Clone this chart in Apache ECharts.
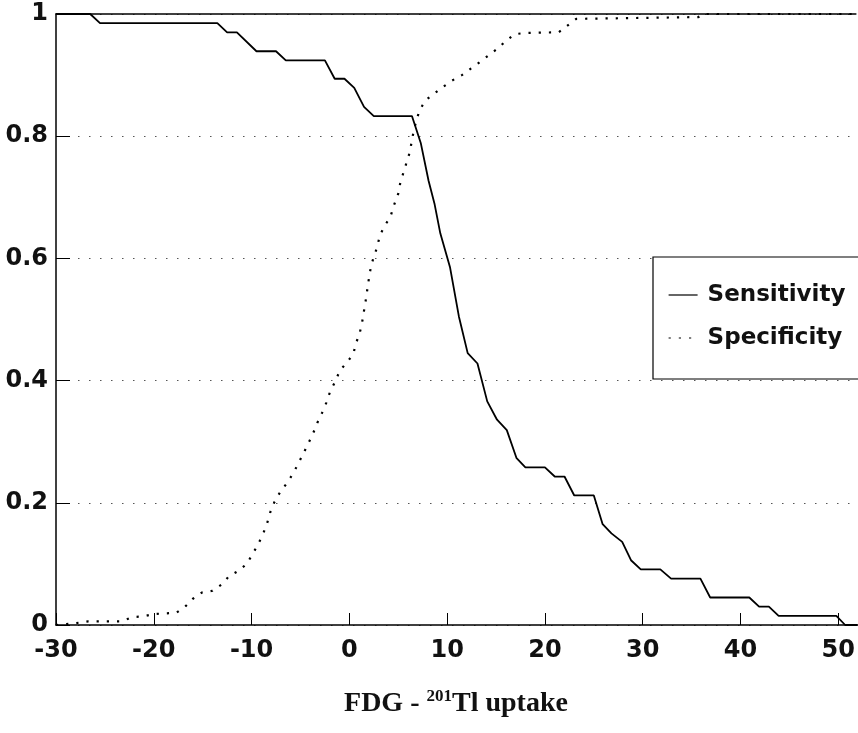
<!DOCTYPE html>
<html>
<head>
<meta charset="utf-8">
<script src="https://cdn.jsdelivr.net/npm/echarts@6/dist/echarts.min.js"></script>
<style>
  html, body { margin: 0; padding: 0; background: #fff; }
  #chart { width: 858px; height: 733px; }
</style>
</head>
<body>
<div id="chart"></div>
<script>
// tick values
const xTicks = [-30, -20, -10, 0, 10, 20, 30, 40, 50]

// Sensitivity (solid)
const sensitivityX = [-30, -26.5, -25.5, -13.5, -12.5, -11.5, -9.5, -7.5, -6.5, -2.5, -1.5, -0.5, 0.5, 1.5, 2.5, 6.4,
  7.3, 8.1, 8.7, 9.3, 10.3, 11.2, 12.1, 13.1, 14.1, 15.1, 16.1, 17.1, 18, 20, 21, 22, 23, 25, 25.9, 26.8, 27.9,
  28.8, 29.8, 31.8, 32.9, 35.9, 36.9, 40.9, 41.9, 42.9, 43.9, 49.8, 50.7, 52]
const sensitivityY = [1, 1, 0.985, 0.985, 0.97, 0.97, 0.939, 0.939, 0.924, 0.924, 0.894, 0.894, 0.879, 0.848, 0.833, 0.833,
  0.789, 0.727, 0.69, 0.641, 0.585, 0.505, 0.445, 0.428, 0.366, 0.336, 0.319, 0.273, 0.258, 0.258, 0.243, 0.243, 0.212, 0.212, 0.165, 0.15, 0.136,
  0.106, 0.091, 0.091, 0.076, 0.076, 0.045, 0.045, 0.03, 0.03, 0.015, 0.015, 0, 0]

// Specificity (dotted)
const specificityX = [-30, -28, -26.7, -23.3, -22.2, -21.1, -20, -17.7, -16.8, -16, -15.1, -14, -13, -12.3, -11.3, -10.5,
  -9.9, -9.3, -8.8, -8.4, -8.1, -7.7, -7.1, -6.4, -5.75, -5.2, -4.7, -4.2, -3.7, -3.27, -2.8, -2.35, -1.97, -1.46, -0.98,
  -0.3, 0.4, 0.65, 1.05, 1.3, 1.67, 2.0, 2.2, 2.5, 2.86, 3.1, 3.6, 4.2, 4.56, 5, 5.2, 5.5, 5.85, 6.2, 6.4, 6.6, 6.87,
  7.2, 7.8, 8.7, 9.6, 10.5, 11.5, 12.45, 13.4, 14.3, 15.2, 16, 16.9, 18, 21.4, 22.3, 23.2, 35.7, 36.2, 52]
const specificityY = [0, 0.003, 0.006, 0.006, 0.013, 0.014, 0.018, 0.02, 0.03, 0.043, 0.053, 0.056, 0.067, 0.08, 0.089, 0.1,
  0.116, 0.133, 0.15, 0.167, 0.184, 0.2, 0.217, 0.232, 0.248, 0.265, 0.281, 0.297, 0.314, 0.331, 0.347, 0.364, 0.382, 0.398, 0.416,
  0.429, 0.443, 0.46, 0.477, 0.495, 0.531, 0.567, 0.586, 0.603, 0.619, 0.637, 0.653, 0.668, 0.687, 0.706, 0.723, 0.739, 0.757, 0.775, 0.794, 0.81, 0.827,
  0.843, 0.859, 0.87, 0.881, 0.891, 0.9, 0.911, 0.922, 0.933, 0.944, 0.956, 0.967, 0.969, 0.97, 0.981, 0.992, 0.995, 1, 1]

const zip = (xs, ys) => xs.map((x, i) => [x, ys[i]])

const labelFont = {
  fontFamily: 'DejaVu Sans',
  fontWeight: 'bold',
  fontSize: 24,
  color: '#111'
}

const chart = echarts.init(document.getElementById('chart'))
const option = {
  animation: false,
  backgroundColor: '#fff',
  grid: {
    left: 56,
    right: 0,
    top: 14,
    bottom: 108
  },
  legend: {
    orient: 'vertical',
    left: 653,
    top: 257,
    padding: [25, 40, 28, 15],
    itemGap: 17,
    itemWidth: 29,
    itemHeight: 14,
    borderColor: '#000',
    borderWidth: 1.2,
    borderRadius: 0,
    backgroundColor: '#fff',
    selectedMode: false,
    itemStyle: { opacity: 0 },
    lineStyle: { width: 1.2 },
    textStyle: {
      fontFamily: 'DejaVu Sans',
      fontWeight: 'bold',
      fontSize: 23,
      color: '#111',
      lineHeight: 26,
      padding: [0, 0, 0, 5]
    },
    data: ['Sensitivity', 'Specificity']
  },
  xAxis: [
    {
      type: 'value',
      min: -30,
      max: 51.8,
      position: 'bottom',
      axisLine: { onZero: false, lineStyle: { color: '#000', width: 1.5 } },
      axisTick: {
        inside: true,
        length: 12,
        customValues: xTicks,
        lineStyle: { color: '#000', width: 1 }
      },
      axisLabel: {
        ...labelFont,
        margin: 14,
        customValues: xTicks
      },
      splitLine: { show: false },
      name: 'FDG - {sup|201}Tl uptake',
      nameLocation: 'middle',
      nameGap: 63,
      nameTextStyle: {
        fontFamily: 'Liberation Serif',
        fontWeight: 'bold',
        fontSize: 28,
        color: '#111',
        lineHeight: 31,
        rich: {
          sup: {
            fontFamily: 'Liberation Serif',
            fontWeight: 'bold',
            fontSize: 17,
            lineHeight: 17,
            verticalAlign: 'top',
            color: '#111'
          }
        }
      }
    },
    {
      // top frame line
      type: 'value',
      min: -30,
      max: 51.8,
      position: 'top',
      axisLine: { show: true, onZero: false, lineStyle: { color: '#000', width: 1.5 } },
      axisTick: { show: false },
      axisLabel: { show: false },
      splitLine: { show: false }
    }
  ],
  yAxis: {
    type: 'value',
    min: 0,
    max: 1,
    interval: 0.2,
    axisLine: { show: true, onZero: false, lineStyle: { color: '#000', width: 1.5 } },
    axisTick: {
      show: true,
      inside: true,
      length: 14,
      lineStyle: { color: '#000', width: 1 }
    },
    axisLabel: {
      ...labelFont,
      margin: 8
    },
    splitLine: {
      show: true,
      lineStyle: {
        color: '#555',
        width: 1,
        type: [1.5, 9.5]
      }
    }
  },
  series: [
    {
      name: 'Sensitivity',
      type: 'line',
      symbol: 'none',
      xAxisIndex: 0,
      lineStyle: { color: '#000', width: 1.8 },
      itemStyle: { color: '#000' },
      data: zip(sensitivityX, sensitivityY)
    },
    {
      name: 'Specificity',
      type: 'line',
      symbol: 'none',
      xAxisIndex: 0,
      lineStyle: { color: '#000', width: 2.2, type: [2.2, 8] },
      itemStyle: { color: '#000' },
      data: zip(specificityX, specificityY)
    }
  ]
}
chart.setOption(option)
</script>
</body>
</html>
